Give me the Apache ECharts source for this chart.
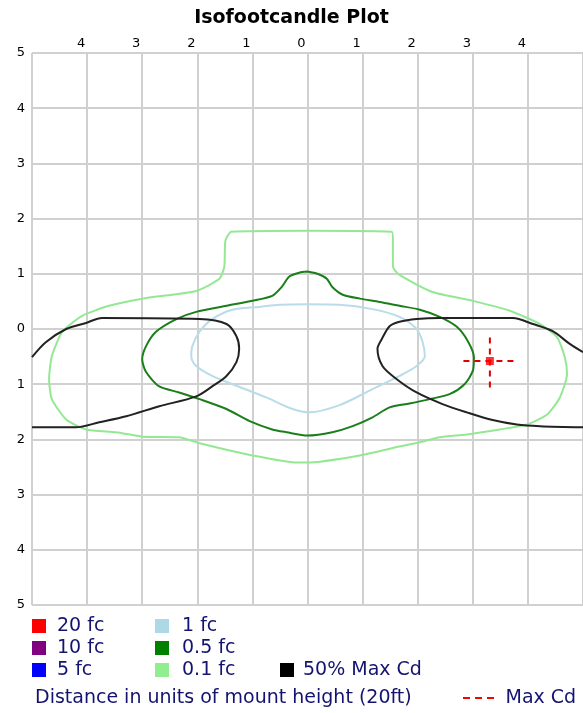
<!DOCTYPE html>
<html><head><meta charset="utf-8">
<script src="https://cdn.jsdelivr.net/npm/echarts@6/dist/echarts.min.js"></script>
<style>html,body{margin:0;padding:0;background:#fff}#c{width:583px;height:713px}</style>
</head><body><div id="c"></div>
<script>
// ---- text ----
const titleText = 'Isofootcandle Plot';
const axisNote = 'Distance in units of mount height (20ft)';
// ---- axis range (units of mount height) ----
const axisMin = -5, axisMax = 5, axisStep = 1;
// ---- legend entries ----
const legendCol1 = ['20 fc', '10 fc', '5 fc'];
const legendCol2 = ['1 fc', '0.5 fc', '0.1 fc'];
const legendCol3 = ['50% Max Cd'];
const legendMax = ['Max Cd'];
const levelColors = {
  '20 fc': '#ff0000', '10 fc': '#800080', '5 fc': '#0000ff',
  '1 fc': '#add8e6', '0.5 fc': '#008000', '0.1 fc': '#90ee90',
  '50% Max Cd': '#000000', 'Max Cd': '#ff0000'
};
// ---- contour data [x, y] in units of mount height ----
const contour01 = [[0,1.78],[1.53,1.76],[1.55,1.6],[1.55,1.13],[1.67,0.98],[2.27,0.67],[3.0,0.51],[3.67,0.33],[4.22,0.09],[4.53,-0.15],[4.67,-0.51],[4.71,-0.82],[4.58,-1.24],[4.35,-1.55],[3.98,-1.73],[3.49,-1.82],[2.89,-1.91],[2.4,-1.96],[2.04,-2.05],[1.67,-2.13],[0.95,-2.29],[0,-2.42],[-0.2,-2.42],[-1.0,-2.29],[-1.96,-2.07],[-2.33,-1.96],[-3.0,-1.95],[-3.47,-1.87],[-4.02,-1.82],[-4.38,-1.64],[-4.64,-1.27],[-4.69,-0.91],[-4.64,-0.49],[-4.45,-0.05],[-4.09,0.24],[-3.6,0.42],[-3.0,0.55],[-2.02,0.69],[-1.6,0.91],[-1.51,1.13],[-1.49,1.6],[-1.38,1.76],[0,1.78]];
const contour1 = [[0,0.45],[0.58,0.44],[1.18,0.36],[1.67,0.22],[1.98,0.0],[2.09,-0.24],[2.13,-0.49],[1.98,-0.67],[1.67,-0.85],[1.18,-1.09],[0.58,-1.38],[0.04,-1.51],[-0.27,-1.45],[-0.75,-1.24],[-1.36,-1.0],[-1.73,-0.85],[-2.02,-0.67],[-2.11,-0.49],[-2.09,-0.31],[-1.96,-0.05],[-1.73,0.18],[-1.36,0.35],[-0.87,0.4],[-0.51,0.44],[0,0.45]];
const contour05 = [[0,1.04],[0.18,1.0],[0.35,0.91],[0.45,0.76],[0.64,0.62],[0.95,0.55],[1.31,0.49],[1.67,0.42],[2.04,0.35],[2.4,0.22],[2.71,0.04],[2.91,-0.22],[3.02,-0.51],[3.0,-0.76],[2.85,-1.0],[2.58,-1.18],[2.22,-1.27],[1.85,-1.35],[1.49,-1.42],[1.18,-1.6],[0.82,-1.76],[0.45,-1.87],[0,-1.93],[-0.38,-1.87],[-0.64,-1.82],[-1.05,-1.67],[-1.47,-1.45],[-1.96,-1.27],[-2.33,-1.15],[-2.69,-1.04],[-2.93,-0.78],[-3.0,-0.55],[-2.93,-0.31],[-2.75,-0.05],[-2.38,0.18],[-2.02,0.31],[-1.47,0.42],[-1.0,0.51],[-0.64,0.6],[-0.47,0.76],[-0.33,0.95],[-0.15,1.02],[0,1.04]];
const halfMaxRight = [[5.0,-0.42],[4.76,-0.27],[4.45,-0.04],[4.09,0.09],[3.73,0.2],[2.4,0.2],[1.98,0.18],[1.67,0.13],[1.49,0.05],[1.35,-0.18],[1.27,-0.36],[1.36,-0.67],[1.62,-0.91],[1.98,-1.15],[2.45,-1.36],[2.89,-1.51],[3.36,-1.65],[3.8,-1.73],[4.22,-1.76],[5.0,-1.78]];
const halfMaxLeft = [[-5.0,-0.51],[-4.75,-0.24],[-4.38,0.0],[-4.02,0.11],[-3.73,0.2],[-1.96,0.18],[-1.47,0.09],[-1.29,-0.13],[-1.24,-0.36],[-1.29,-0.6],[-1.47,-0.85],[-1.73,-1.04],[-2.02,-1.22],[-2.69,-1.4],[-3.29,-1.58],[-3.78,-1.69],[-4.2,-1.78],[-5.0,-1.78]];
const maxCdPoint = [3.31, -0.58];
const maxCdCrossHalf = 0.48;

const FONT = 'DejaVu Sans';
const GRID = '#d0d0d0';
const NAVY = '#141470';

function contour(name, data, lineColor, smooth) {
  return { name, type: 'line', data, showSymbol: false, symbol: 'none', smooth: smooth,
    color: levelColors[name], itemStyle: { color: levelColors[name] },
    lineStyle: { color: lineColor || levelColors[name], width: 2 }, silent: true, animation: false, z: 3 };
}
const empty = n => ({ name: n, type: 'line', data: [], color: levelColors[n], itemStyle: { color: levelColors[n] }, animation: false });

const [cx, cy] = maxCdPoint;
const series = [
  empty('20 fc'), empty('10 fc'), empty('5 fc'),
  contour('0.1 fc', contour01, '#94e894', 0.2),
  contour('1 fc', contour1, '#b8dcea', 0.3),
  contour('0.5 fc', contour05, '#1a7f1a', 0.25),
  contour('50% Max Cd', halfMaxLeft, '#222222', 0.3),
  contour('50% Max Cd', halfMaxRight, '#222222', 0.3),
  { name: 'Max Cd', type: 'line', data: [[cx - maxCdCrossHalf, cy], [cx + maxCdCrossHalf, cy]], showSymbol: false, symbol: 'none',
    color: '#ff0000', lineStyle: { color: '#e00000', width: 2, type: [6, 5] }, animation: false, z: 4 },
  { name: 'Max Cd', type: 'line', data: [[cx, cy - maxCdCrossHalf], [cx, cy + maxCdCrossHalf]], showSymbol: false, symbol: 'none',
    color: '#ff0000', lineStyle: { color: '#e00000', width: 2, type: [6, 5] }, animation: false, z: 4 },
  { name: 'Max Cd', type: 'scatter', data: [maxCdPoint], symbol: 'rect', symbolSize: 8,
    itemStyle: { color: '#ff0000' }, animation: false, z: 5 }
];

const legendText = (pad) => ({ fontFamily: FONT, fontSize: 19, color: NAVY, lineHeight: 20, padding: [0, 0, 0, pad] });
const chart = echarts.init(document.getElementById('c'), null, { renderer: 'canvas' });
chart.setOption({
  animation: false,
  backgroundColor: '#ffffff',
  title: [
    { text: titleText, left: 'center', top: 8, padding: [0, 0, 0, 16],
      textStyle: { fontFamily: FONT, fontSize: 19, fontWeight: 'bold', color: '#000', lineHeight: 20 } },
    { text: axisNote, left: 35, top: 687, padding: 0,
      textStyle: { fontFamily: FONT, fontSize: 19, fontWeight: 'normal', color: NAVY, lineHeight: 22 } }
  ],
  legend: [
    { data: legendCol1, orient: 'vertical', left: 32, top: 616, padding: 0, itemGap: 2, itemWidth: 14, itemHeight: 14,
      icon: 'rect', selectedMode: false, textStyle: legendText(6), itemStyle: { borderWidth: 0 } },
    { data: legendCol2, orient: 'vertical', left: 155, top: 616, padding: 0, itemGap: 2, itemWidth: 14, itemHeight: 14,
      icon: 'rect', selectedMode: false, textStyle: legendText(8), itemStyle: { borderWidth: 0 } },
    { data: legendCol3, orient: 'vertical', left: 280, top: 660, padding: 0, itemGap: 2, itemWidth: 14, itemHeight: 14,
      icon: 'rect', selectedMode: false, textStyle: legendText(4), itemStyle: { borderWidth: 0 } },
    { data: legendMax, orient: 'vertical', left: 463, top: 688, padding: 0, itemWidth: 34, itemHeight: 2,
      icon: 'path://M0,0h7v2h-7z M12,0h7v2h-7z M24,0h7v2h-7z', selectedMode: false,
      textStyle: legendText(5), itemStyle: { borderWidth: 0, color: '#ff0000' } }
  ],
  grid: { left: 32, top: 53, width: 553, height: 552, containLabel: false },
  xAxis: {
    type: 'value', position: 'top', min: axisMin, max: axisMax, interval: axisStep,
    axisLine: { show: true, lineStyle: { color: GRID, width: 2 } },
    axisTick: { show: false },
    splitLine: { show: true, lineStyle: { color: GRID, width: 2 } },
    axisLabel: { showMinLabel: false, showMaxLabel: false, margin: 3, fontFamily: FONT, fontSize: 13, color: '#000',
      padding: [0, 12, 0, 0], formatter: v => String(Math.abs(v)) }
  },
  yAxis: {
    type: 'value', min: axisMin, max: axisMax, interval: axisStep,
    axisLine: { show: true, lineStyle: { color: GRID, width: 2 } },
    axisTick: { show: false },
    splitLine: { show: true, lineStyle: { color: GRID, width: 2 } },
    axisLabel: { margin: 7, fontFamily: FONT, fontSize: 13, color: '#000', padding: [4, 0, 0, 0],
      showMinLabel: true, showMaxLabel: true, formatter: v => String(Math.abs(v)) }
  },
  series
});
</script></body></html>
